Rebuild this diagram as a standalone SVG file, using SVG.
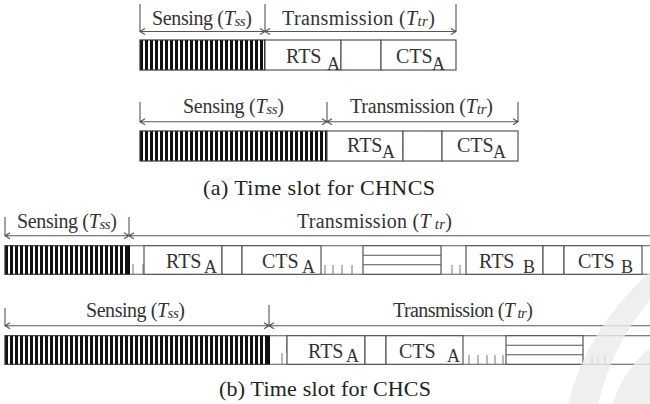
<svg xmlns="http://www.w3.org/2000/svg" width="650" height="404" viewBox="0 0 650 404">
<defs>
<pattern id="hatch" width="5" height="10" patternUnits="userSpaceOnUse"><rect x="0" y="0" width="3" height="10" fill="#111"/></pattern>
<style>
.t{font-family:"Liberation Serif","Times New Roman",serif;fill:#333;font-size:20px}
.cap{font-family:"Liberation Serif","Times New Roman",serif;fill:#222;font-size:22px}
.sub{font-size:18px}
.b{fill:#fff;stroke:#555;stroke-width:1.2}
.ln{stroke:#555;stroke-width:1.1;fill:none}
.tk{stroke:#777;stroke-width:1;fill:none}
.hb{fill:url(#hatch);stroke:#333;stroke-width:1.2}
.end{stroke:#111;stroke-width:2}
.dim{stroke:#555;stroke-width:1.1;fill:none}
.i{font-style:italic}
.s{font-style:italic;font-size:15px}
</style>
</defs>
<rect width="650" height="404" fill="#fff"/>

<!-- Diagram A1 -->
<g id="a1-sensing"><rect class="hb" x="140" y="40" width="125" height="30"/><line class="end" x1="265" y1="40" x2="265" y2="70"/></g>
<g id="a1-rts"><rect class="b" x="265" y="40" width="76" height="30"/><text class="t" x="286" y="63">RTS</text><text class="t sub" x="327" y="70">A</text></g>
<g id="a1-gap"><rect class="b" x="341" y="40" width="40" height="30"/></g>
<g id="a1-cts"><rect class="b" x="381" y="40" width="75" height="30"/><text class="t" x="396" y="63">CTS</text><text class="t sub" x="432" y="70">A</text></g>
<g id="a1-labels">
<text class="t" x="152" y="25" textLength="100" lengthAdjust="spacing">Sensing (<tspan class="i">T</tspan><tspan class="s" dy="1">ss</tspan><tspan dy="-1">)</tspan></text>
<text class="t" x="282" y="25" textLength="153" lengthAdjust="spacing">Transmission (<tspan class="i">T</tspan><tspan class="s" dy="1">tr</tspan><tspan dy="-1">)</tspan></text>
</g>

<!-- Diagram A2 -->
<g id="a2-sensing"><rect class="hb" x="140" y="131" width="187" height="30"/><line class="end" x1="327" y1="131" x2="327" y2="161"/></g>
<g id="a2-rts"><rect class="b" x="327" y="131" width="76" height="30"/><text class="t" x="347" y="152">RTS</text><text class="t sub" x="382" y="158">A</text></g>
<g id="a2-gap"><rect class="b" x="403" y="131" width="39" height="30"/></g>
<g id="a2-cts"><rect class="b" x="442" y="131" width="76" height="30"/><text class="t" x="457" y="152">CTS</text><text class="t sub" x="493" y="158">A</text></g>
<g id="a2-labels">
<text class="t" x="183" y="113" textLength="101" lengthAdjust="spacing">Sensing (<tspan class="i">T</tspan><tspan class="s" dy="1">ss</tspan><tspan dy="-1">)</tspan></text>
<text class="t" x="350" y="113" textLength="143" lengthAdjust="spacing">Transmission (<tspan class="i">T</tspan><tspan class="s" dy="1">tr</tspan><tspan dy="-1">)</tspan></text>
</g>
<text id="cap-a" class="cap" x="203" y="195" textLength="232" lengthAdjust="spacing">(a) Time slot for CHNCS</text>

<!-- Diagram B1 -->
<g id="b1-frame"><line class="ln" x1="129" y1="245.7" x2="650" y2="245.7"/><line class="ln" x1="129" y1="274.3" x2="650" y2="274.3"/></g>
<g id="b1-sensing"><rect class="hb" x="5" y="245.7" width="124" height="28.6"/><line class="end" x1="129" y1="245.7" x2="129" y2="274.3"/></g>
<g id="b1-guard1"><line class="tk" x1="133" y1="264" x2="133" y2="274"/><line class="tk" x1="143" y1="264" x2="143" y2="274"/></g>
<g id="b1-rts"><rect class="b" x="144" y="245.7" width="78" height="28.6"/><text class="t" x="166" y="268">RTS</text><text class="t sub" x="204" y="272.5">A</text></g>
<g id="b1-gap"><rect class="b" x="222" y="245.7" width="20" height="28.6"/></g>
<g id="b1-cts"><rect class="b" x="242" y="245.7" width="79" height="28.6"/><text class="t" x="262" y="268">CTS</text><text class="t sub" x="302" y="272.5">A</text></g>
<g id="b1-guard2"><line class="tk" x1="325" y1="265" x2="325" y2="274"/><line class="tk" x1="333" y1="265" x2="333" y2="274"/><line class="tk" x1="342" y1="265" x2="342" y2="274"/><line class="tk" x1="352" y1="265" x2="352" y2="274"/></g>
<g id="b1-data"><rect class="b" x="363" y="245.7" width="78" height="28.6"/><line class="ln" x1="363" y1="255.2" x2="441" y2="255.2"/><line class="ln" x1="363" y1="264.8" x2="441" y2="264.8"/></g>
<g id="b1-guard3"><line class="tk" x1="452" y1="265" x2="452" y2="274"/><line class="tk" x1="460" y1="265" x2="460" y2="274"/></g>
<g id="b1-rtsb"><rect class="b" x="466" y="245.7" width="77" height="28.6"/><text class="t" x="479" y="268">RTS</text><text class="t sub" x="523" y="272.5">B</text></g>
<g id="b1-gapb"><rect class="b" x="543" y="245.7" width="21" height="28.6"/></g>
<g id="b1-ctsb"><rect class="b" x="564" y="245.7" width="78" height="28.6"/><text class="t" x="578" y="268">CTS</text><text class="t sub" x="621" y="272.5">B</text></g>
<g id="b1-labels">
<text class="t" x="17" y="228" textLength="100" lengthAdjust="spacing">Sensing (<tspan class="i">T</tspan><tspan class="s" dy="1">ss</tspan><tspan dy="-1">)</tspan></text>
<text class="t" x="297" y="228" textLength="155" lengthAdjust="spacing">Transmission (<tspan class="i">T</tspan><tspan class="s" dy="1"> tr</tspan><tspan dy="-1">)</tspan></text>
</g>

<!-- Diagram B2 -->
<g id="b2-frame"><line class="ln" x1="269" y1="335.7" x2="650" y2="335.7"/><line class="ln" x1="269" y1="364.3" x2="650" y2="364.3"/></g>
<g id="b2-sensing"><rect class="hb" x="5" y="335.7" width="264" height="28.6"/><line class="end" x1="269" y1="335.7" x2="269" y2="364.3"/></g>
<g id="b2-guard1"><line class="tk" x1="282" y1="353" x2="282" y2="364"/><line class="ln" x1="287" y1="335.7" x2="287" y2="353"/></g>
<g id="b2-rts"><rect class="b" x="287" y="335.7" width="78" height="28.6"/><text class="t" x="308" y="357.5">RTS</text><text class="t sub" x="346" y="362">A</text></g>
<g id="b2-gap"><rect class="b" x="365" y="335.7" width="21" height="28.6"/></g>
<g id="b2-cts"><rect class="b" x="386" y="335.7" width="77" height="28.6"/><text class="t" x="399" y="357.5">CTS</text><text class="t sub" x="447" y="362">A</text></g>
<g id="b2-guard2"><line class="tk" x1="469" y1="355" x2="469" y2="364"/><line class="tk" x1="478" y1="355" x2="478" y2="364"/><line class="tk" x1="487" y1="355" x2="487" y2="364"/><line class="tk" x1="495" y1="355" x2="495" y2="364"/><line class="tk" x1="503" y1="355" x2="503" y2="364"/></g>
<g id="b2-data"><rect class="b" x="506" y="335.7" width="77" height="28.6"/><line class="ln" x1="506" y1="345.2" x2="583" y2="345.2"/><line class="ln" x1="506" y1="354.8" x2="583" y2="354.8"/></g>
<g id="b2-guard3"><line class="tk" x1="592" y1="355" x2="592" y2="364"/><line class="tk" x1="598" y1="355" x2="598" y2="364"/><line class="tk" x1="605" y1="355" x2="605" y2="364"/></g>
<g id="b2-labels">
<text class="t" x="86" y="317" textLength="99" lengthAdjust="spacing">Sensing (<tspan class="i">T</tspan><tspan class="s" dy="1">ss</tspan><tspan dy="-1">)</tspan></text>
<text class="t" x="393" y="317" textLength="140" lengthAdjust="spacing">Transmission (<tspan class="i">T</tspan><tspan class="s" dy="1"> tr</tspan><tspan dy="-1">)</tspan></text>
</g>
<text id="cap-b" class="cap" x="219" y="396" textLength="212" lengthAdjust="spacing">(b) Time slot for CHCS</text>

<!-- Connectors: dimension lines -->
<g id="connectors" class="dim">
<path d="M140 4V32M265 4V32M456 4V32M140 31.5H456M145 28.5L140 31.5L145 34.5M260 28.5L265 31.5L260 34.5M270 28.5L265 31.5L270 34.5M451 28.5L456 31.5L451 34.5"/>
<path d="M140 102V122M327 102V122M518 102V122M140 121.7H518M145 118.7L140 121.7L145 124.7M322 118.7L327 121.7L322 124.7M332 118.7L327 121.7L332 124.7M513 118.7L518 121.7L513 124.7"/>
<path d="M5 217V236M129 217V236M5 235.7H650M10 232.7L5 235.7L10 238.7M124 232.7L129 235.7L124 238.7M134 232.7L129 235.7L134 238.7"/>
<path d="M5 308V326M269 305V326M5 325.7H650M10 322.7L5 325.7L10 328.7M264 322.7L269 325.7L264 328.7M274 322.7L269 325.7L274 328.7"/>
</g>

<!-- watermark -->
<g id="watermark" fill="#ececec" opacity="0.8">
<path d="M650 272 L650 300 Q612 345 598 404 L568 404 Q586 330 650 272 Z"/>
<path d="M650 348 L650 404 L613 404 Q622 372 650 348 Z"/>
</g>
</svg>
